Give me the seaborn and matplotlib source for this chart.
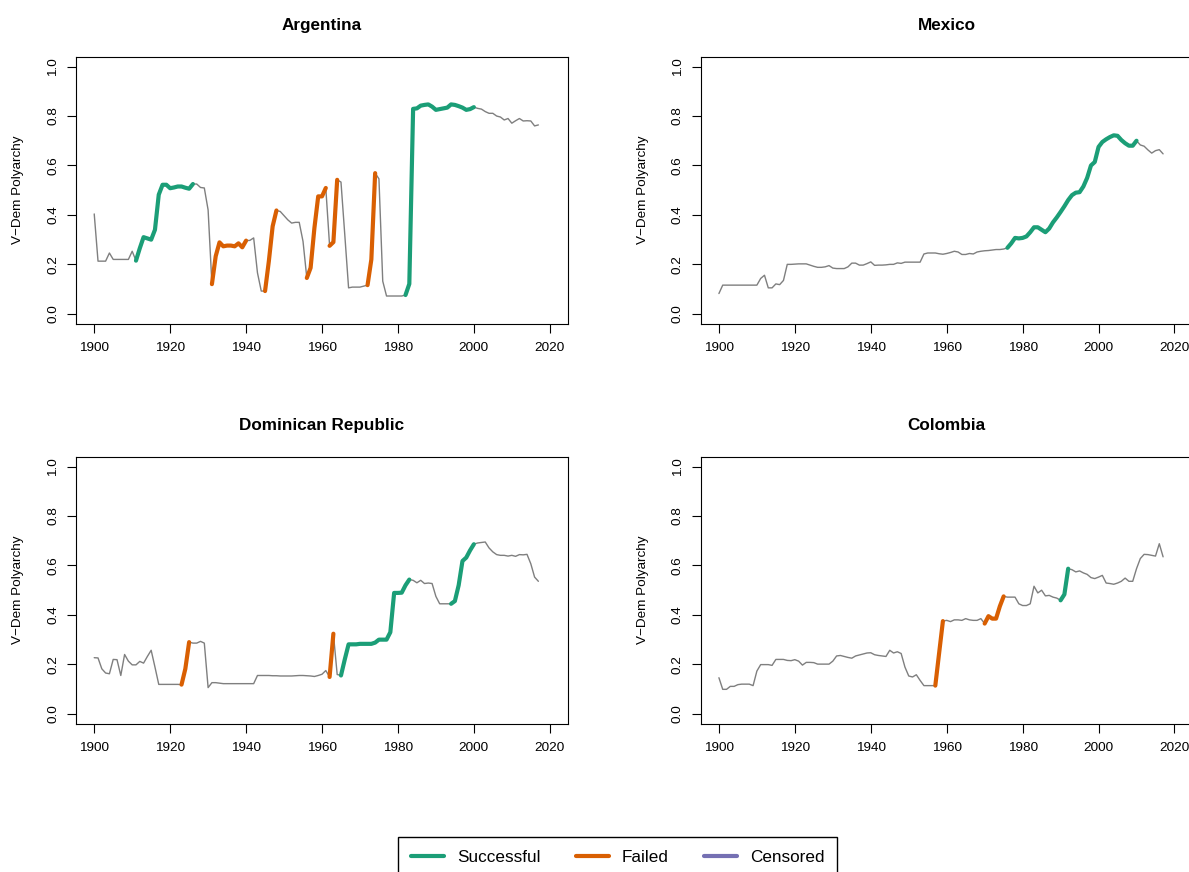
import numpy as np
import pandas as pd
import seaborn as sns
import matplotlib.pyplot as plt
from matplotlib.lines import Line2D

# V-Dem polyarchy, one value per year 1900-2017
years = list(range(1900, 2018))

argentina = [
    0.404, 0.213, 0.213, 0.213, 0.246, 0.220, 0.220, 0.220, 0.220, 0.220,
    0.253, 0.215, 0.265, 0.310, 0.305, 0.300, 0.340, 0.482, 0.522, 0.522,
    0.508, 0.511, 0.515, 0.515, 0.510, 0.506, 0.525, 0.525, 0.511, 0.509,
    0.420, 0.120, 0.233, 0.289, 0.273, 0.276, 0.276, 0.273, 0.285, 0.269,
    0.296, 0.297, 0.307, 0.166, 0.092, 0.092, 0.213, 0.354, 0.418, 0.414,
    0.397, 0.380, 0.367, 0.370, 0.370, 0.293, 0.145, 0.186, 0.347, 0.475,
    0.475, 0.509, 0.275, 0.290, 0.542, 0.533, 0.320, 0.105, 0.108, 0.108,
    0.108, 0.112, 0.116, 0.220, 0.569, 0.546, 0.132, 0.072, 0.072, 0.072,
    0.072, 0.072, 0.076, 0.121, 0.829, 0.831, 0.842, 0.845, 0.847, 0.838,
    0.825, 0.828, 0.831, 0.834, 0.847, 0.845, 0.840, 0.834, 0.825, 0.828,
    0.836, 0.831, 0.828, 0.818, 0.811, 0.811, 0.800, 0.796, 0.784, 0.790,
    0.771, 0.781, 0.790, 0.780, 0.781, 0.780, 0.760, 0.764]

mexico = [
    0.082, 0.116, 0.116, 0.116, 0.116, 0.116, 0.116, 0.116, 0.116, 0.116,
    0.116, 0.143, 0.156, 0.105, 0.105, 0.121, 0.118, 0.135, 0.200, 0.200,
    0.201, 0.202, 0.202, 0.202, 0.197, 0.192, 0.188, 0.188, 0.190, 0.195,
    0.185, 0.183, 0.183, 0.183, 0.190, 0.205, 0.205, 0.197, 0.197, 0.203,
    0.210, 0.196, 0.197, 0.197, 0.198, 0.200, 0.200, 0.206, 0.204, 0.209,
    0.209, 0.209, 0.209, 0.209, 0.242, 0.246, 0.246, 0.246, 0.243, 0.241,
    0.244, 0.248, 0.253, 0.250, 0.240, 0.240, 0.244, 0.242, 0.250, 0.253,
    0.255, 0.256, 0.258, 0.260, 0.260, 0.262, 0.267, 0.285, 0.307, 0.305,
    0.307, 0.313, 0.330, 0.350, 0.350, 0.340, 0.330, 0.345, 0.370, 0.390,
    0.412, 0.435, 0.460, 0.480, 0.490, 0.492, 0.515, 0.550, 0.600, 0.614,
    0.675, 0.695, 0.706, 0.715, 0.722, 0.720, 0.703, 0.690, 0.680, 0.680,
    0.700, 0.683, 0.678, 0.663, 0.650, 0.660, 0.664, 0.647]

dominican_republic = [
    0.227, 0.226, 0.182, 0.165, 0.162, 0.220, 0.219, 0.155, 0.240, 0.213,
    0.198, 0.198, 0.212, 0.205, 0.232, 0.257, 0.189, 0.119, 0.119, 0.119,
    0.119, 0.119, 0.119, 0.118, 0.182, 0.290, 0.286, 0.286, 0.293, 0.286,
    0.106, 0.126, 0.126, 0.124, 0.122, 0.122, 0.122, 0.122, 0.122, 0.122,
    0.122, 0.122, 0.122, 0.155, 0.155, 0.155, 0.155, 0.154, 0.154, 0.153,
    0.153, 0.153, 0.153, 0.154, 0.155, 0.155, 0.154, 0.153, 0.151, 0.155,
    0.160, 0.175, 0.149, 0.324, 0.159, 0.155, 0.220, 0.281, 0.281, 0.281,
    0.283, 0.283, 0.283, 0.283, 0.288, 0.300, 0.300, 0.300, 0.330, 0.489,
    0.489, 0.490, 0.520, 0.543, 0.540, 0.530, 0.540, 0.527, 0.529, 0.527,
    0.475, 0.445, 0.445, 0.445, 0.445, 0.456, 0.520, 0.618, 0.632, 0.661,
    0.686, 0.691, 0.693, 0.695, 0.671, 0.655, 0.644, 0.641, 0.641, 0.638,
    0.641, 0.637, 0.644, 0.643, 0.645, 0.607, 0.553, 0.536]

colombia = [
    0.146, 0.099, 0.099, 0.111, 0.111, 0.118, 0.120, 0.120, 0.120, 0.114,
    0.173, 0.199, 0.199, 0.199, 0.196, 0.220, 0.220, 0.220, 0.216, 0.215,
    0.219, 0.213, 0.197, 0.208, 0.208, 0.207, 0.201, 0.201, 0.201, 0.201,
    0.213, 0.234, 0.236, 0.232, 0.228, 0.225, 0.234, 0.238, 0.242, 0.246,
    0.247, 0.239, 0.236, 0.234, 0.232, 0.257, 0.246, 0.251, 0.244, 0.189,
    0.153, 0.149, 0.158, 0.135, 0.114, 0.114, 0.114, 0.114, 0.245, 0.375,
    0.378, 0.373, 0.380, 0.380, 0.378, 0.385, 0.380, 0.378, 0.378, 0.385,
    0.365, 0.395, 0.385, 0.385, 0.435, 0.475, 0.472, 0.472, 0.472, 0.445,
    0.438, 0.438, 0.445, 0.516, 0.489, 0.500, 0.477, 0.479, 0.472, 0.468,
    0.459, 0.483, 0.587, 0.583, 0.574, 0.578, 0.570, 0.564, 0.551, 0.547,
    0.553, 0.560, 0.529, 0.527, 0.524, 0.529, 0.536, 0.549, 0.536, 0.536,
    0.587, 0.628, 0.645, 0.644, 0.641, 0.638, 0.688, 0.635]

# democratization episodes: (outcome, first year, last year)
argentina_episodes = [("Successful", 1911, 1926), ("Failed", 1931, 1940),
                      ("Failed", 1945, 1948), ("Failed", 1956, 1961),
                      ("Failed", 1962, 1964), ("Failed", 1972, 1974),
                      ("Successful", 1982, 2000)]
mexico_episodes = [("Successful", 1976, 2010)]
dominican_episodes = [("Failed", 1923, 1925), ("Failed", 1962, 1963),
                      ("Successful", 1965, 1983), ("Successful", 1994, 2000)]
colombia_episodes = [("Failed", 1957, 1959), ("Failed", 1970, 1975),
                     ("Successful", 1990, 1992)]

outcomes = ["Successful", "Failed", "Censored"]
colors = {"Successful": "#1B9E77", "Failed": "#D95F02", "Censored": "#7570B3"}

panels = [
    ("Argentina", argentina, argentina_episodes, [76, 56.7]),
    ("Mexico", mexico, mexico_episodes, [700.7, 56.7]),
    ("Dominican Republic", dominican_republic, dominican_episodes, [76, 456.7]),
    ("Colombia", colombia, colombia_episodes, [700.7, 456.7]),
]

sns.set_style("white")
plt.rcParams['font.family'] = ['Liberation Sans', 'DejaVu Sans']
plt.rcParams['text.color'] = 'black'
plt.rcParams['axes.labelcolor'] = 'black'

W, H = 1189, 872
fig = plt.figure(figsize=(W / 100, H / 100), dpi=100)

for name, values, episodes, (left, top) in panels:
    ax = fig.add_axes([left / W, 1 - (top + 267) / H, 492 / W, 267 / H])
    df = pd.DataFrame({"year": years, "polyarchy": values})

    sns.lineplot(data=df, x="year", y="polyarchy", color="#7f7f7f",
                 linewidth=1.0, ax=ax, legend=False)
    for outcome, start, end in episodes:
        seg = df[(df.year >= start) & (df.year <= end)]
        sns.lineplot(data=seg, x="year", y="polyarchy", color=colors[outcome],
                     linewidth=3.0, ax=ax, legend=False,
                     solid_capstyle="round", solid_joinstyle="round")

    ax.set_xlim(1895.2, 2024.8)
    ax.set_ylim(-0.04, 1.04)
    ax.set_xticks([1900, 1920, 1940, 1960, 1980, 2000, 2020])
    ax.set_yticks([0.0, 0.2, 0.4, 0.6, 0.8, 1.0])
    ax.set_yticklabels(["0.0", "0.2", "0.4", "0.6", "0.8", "1.0"])
    ax.tick_params(axis="both", which="major", length=6.2, width=0.8,
                   color="black", labelsize=9.7, labelcolor="black",
                   bottom=True, left=True)
    ax.tick_params(axis="x", pad=7)
    ax.tick_params(axis="y", pad=6, labelrotation=90)
    for lab in ax.get_yticklabels():
        lab.set_va("center")
    for sp in ax.spines.values():
        sp.set_visible(True)
        sp.set_color("black")
        sp.set_linewidth(0.8)

    ax.set_xlabel("")
    ax.set_ylabel("V\u2212Dem Polyarchy", fontsize=9.7, color="black")
    ax.yaxis.set_label_coords(-0.105, 0.5)
    ax.set_title(name, fontsize=12.3, fontweight="bold", pad=19, color="black")

handles = [Line2D([0], [0], color=colors[o], lw=3) for o in outcomes]
leg = fig.legend(handles, outcomes, ncol=3, loc="upper left",
                 bbox_to_anchor=(398 / W, 1 - 837 / H), borderaxespad=0,
                 fontsize=12.3, frameon=True, fancybox=False,
                 edgecolor="black", framealpha=1, handlelength=1.93,
                 handletextpad=0.76, columnspacing=2.08, borderpad=0.75)
leg.get_frame().set_linewidth(1.0)
for t in leg.get_texts():
    t.set_color("black")

plt.savefig("out.png", dpi=100)
